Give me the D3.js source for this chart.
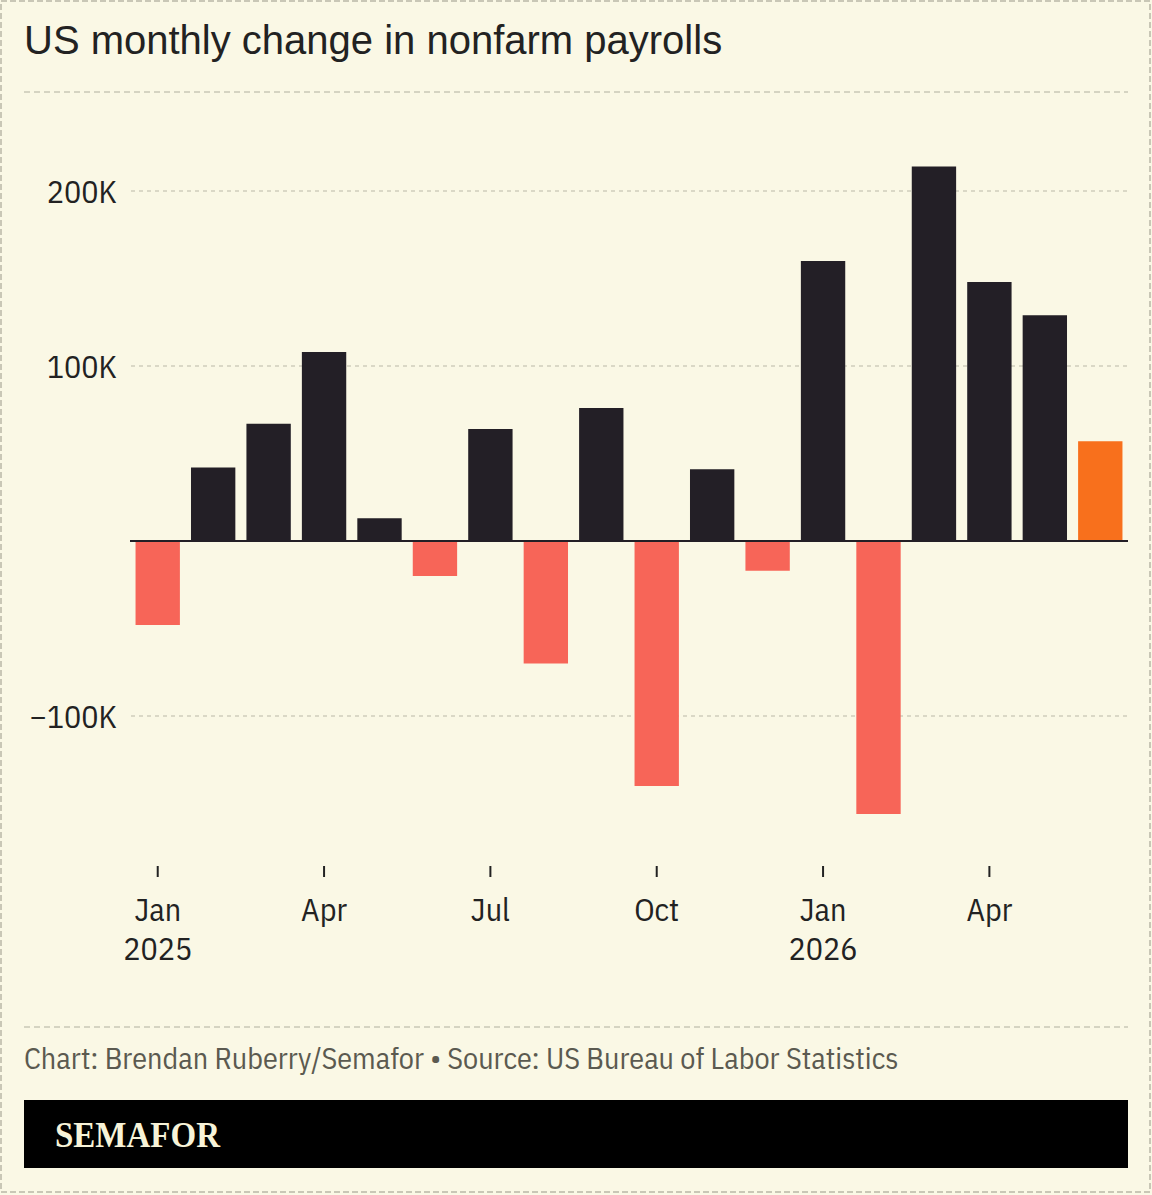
<!DOCTYPE html>
<html>
<head>
<meta charset="utf-8">
<script src="https://cdn.jsdelivr.net/npm/d3@7"></script>
<style>
  body { margin: 0; background: #faf8e5; }
  svg { display: block; }
  .cond { font-family: "IBM Plex Sans Condensed", "Liberation Sans Narrow", "DejaVu Sans Condensed", "DejaVu Sans", sans-serif; font-stretch: condensed; }
</style>
</head>
<body>
<div id="app"></div>
<script>
const width = 1152
const height = 1195

// monthly change, thousands of jobs
const months = ['2025-01', '2025-02', '2025-03', '2025-04', '2025-05', '2025-06', '2025-07', '2025-08', '2025-09',
  '2025-10', '2025-11', '2025-12', '2026-01', '2026-02', '2026-03', '2026-04', '2026-05', '2026-06']
const values = [-48, 42, 67, 108, 13, -20, 64, -70, 76, -140, 41, -17, 160, -156, 214, 148, 129, 57]
const yTicks = [-100, 100, 200]
const tickMonths = ['2025-01', '2025-04', '2025-07', '2025-10', '2026-01', '2026-04']
const monthNames = ['Jan', 'Feb', 'Mar', 'Apr', 'May', 'Jun', 'Jul', 'Aug', 'Sep', 'Oct', 'Nov', 'Dec']

const colors = {
  bg: "#faf8e5",
  pos: "#231f26",
  neg: "#f76558",
  latest: "#f8701c",
  grid: "#b9b8a8",
  rule: "#c9c7b6",
  text: "#222222",
  muted: "#5b5a50"
}

const svg = d3.select('#app').append('svg')
  .attr('width', width)
  .attr('height', height)

svg.append('rect').attr('width', width).attr('height', height).attr('fill', colors.bg)
// outer dashed frame
svg.append('rect')
  .attr('x', 1).attr('y', 1).attr('width', width - 3).attr('height', height - 4)
  .attr('fill', 'none').attr('stroke', colors.rule).attr('stroke-width', 2).attr('stroke-dasharray', '6 3')

svg.append('text')
  .attr('x', 24).attr('y', 54)
  .attr('font-family', '"Liberation Sans", Arial, sans-serif')
  .attr('font-size', 40)
  .attr('fill', colors.text)
  .text('US monthly change in nonfarm payrolls')

// separators
const rule = y => svg.append('line')
  .attr('x1', 24).attr('x2', 1128).attr('y1', y).attr('y2', y)
  .attr('stroke', colors.rule).attr('stroke-width', 1.5).attr('stroke-dasharray', '6 4')
rule(92)
rule(1027)

const x = d3.scaleBand()
  .domain(months)
  .range([130, 1128])
  .paddingInner(0.2)
  .paddingOuter(0.1)

const y = d3.scaleLinear()
  .domain([-200, 300])
  .range([891, 16])

// gridlines + labels
const grid = svg.append('g')
grid.selectAll('line').data(yTicks).join('line')
  .attr('x1', 131).attr('x2', 1128)
  .attr('y1', d => y(d)).attr('y2', d => y(d))
  .attr('stroke', colors.grid).attr('stroke-width', 1.2).attr('stroke-dasharray', '4 4')
grid.selectAll('text').data(yTicks).join('text')
  .attr('class', 'cond')
  .attr('x', 117).attr('y', d => y(d) + 12)
  .attr('text-anchor', 'end')
  .attr('font-size', 32)
  .attr('fill', colors.text)
  .text(d => (d < 0 ? '\u2212' : '') + Math.abs(d) + 'K')

// bars
svg.append('g').selectAll('rect').data(values).join('rect')
  .attr('x', (d, i) => x(months[i]))
  .attr('width', x.bandwidth())
  .attr('y', d => y(Math.max(0, d)))
  .attr('height', d => Math.abs(y(d) - y(0)))
  .attr('fill', (d, i) => i === values.length - 1 ? colors.latest : (d < 0 ? colors.neg : colors.pos))

// zero line
svg.append('line')
  .attr('x1', 130).attr('x2', 1128).attr('y1', y(0)).attr('y2', y(0))
  .attr('stroke', colors.pos).attr('stroke-width', 2)

// x axis ticks
const xt = svg.append('g').selectAll('g').data(tickMonths).join('g')
  .attr('transform', d => `translate(${x(d) + x.bandwidth() / 2},0)`)
xt.append('line').attr('y1', 866).attr('y2', 877).attr('stroke', colors.text).attr('stroke-width', 2)
xt.append('text')
  .attr('class', 'cond')
  .attr('y', 921).attr('text-anchor', 'middle')
  .attr('font-size', 32).attr('fill', colors.text)
  .text(d => monthNames[+d.slice(5) - 1])
xt.filter(d => d.endsWith('-01')).append('text')
  .attr('class', 'cond')
  .attr('y', 960).attr('text-anchor', 'middle')
  .attr('font-size', 32).attr('fill', colors.text)
  .text(d => d.slice(0, 4))

// footer
svg.append('text')
  .attr('class', 'cond')
  .attr('x', 24).attr('y', 1069)
  .attr('font-size', 30).attr('fill', colors.muted)
  .text('Chart: Brendan Ruberry/Semafor \u2022 Source: US Bureau of Labor Statistics')

svg.append('rect')
  .attr('x', 24).attr('y', 1100).attr('width', 1104).attr('height', 68)
  .attr('fill', '#000')
svg.append('text')
  .attr('x', 55).attr('y', 1147)
  .attr('font-family', '"Liberation Serif", "DejaVu Serif", serif')
  .attr('font-weight', 'bold')
  .attr('font-size', 35)
  .attr('textLength', 165)
  .attr('lengthAdjust', 'spacingAndGlyphs')
  .attr('fill', '#f7f3d8')
  .text('SEMAFOR')
</script>
</body>
</html>
